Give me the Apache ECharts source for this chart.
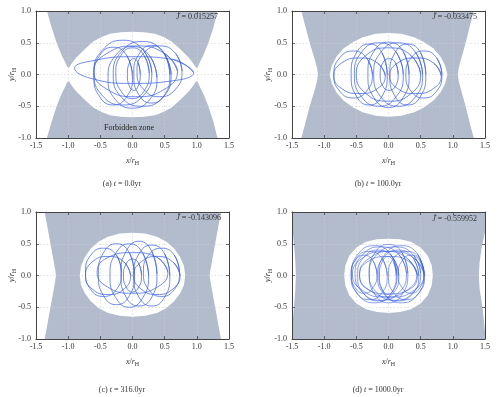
<!DOCTYPE html>
<html>
<head>
<meta charset="utf-8">
<script src="https://cdn.jsdelivr.net/npm/echarts@6/dist/echarts.min.js"></script>
<style>html,body{margin:0;padding:0;background:#fff}#container{width:500px;height:397px}</style>
</head>
<body>
<div id="container"></div>
<script>
// captions + Jacobi values
var captions = ['(a) {i|t} = 0.0yr', '(b) {i|t} = 100.0yr', '(c) {i|t} = 316.0yr', '(d) {i|t} = 1000.0yr'];
var jValues = ['0.015257', '-0.033475', '-0.143096', '-0.559952'];
var zoneLabel = 'Forbidden zone';

// forbidden zone (a): upper and lower pieces, meeting the inner oval at the necks
var zoneTopA = [[-1.33,1],[-1.26,0.75],[-1.18,0.5],[-1.1,0.3],[-1.05,0.2],[-1.02,0.13],[-1.0,0.105],[-0.98,0.12],[-0.94,0.18],[-0.88,0.26],[-0.81,0.33],[-0.71,0.43],[-0.61,0.52],[-0.48,0.59],[-0.35,0.64],[-0.18,0.665],[0,0.675],[0.18,0.665],[0.35,0.64],[0.48,0.59],[0.61,0.52],[0.71,0.43],[0.81,0.33],[0.88,0.26],[0.94,0.18],[0.98,0.12],[1.0,0.105],[1.02,0.13],[1.05,0.2],[1.1,0.3],[1.18,0.5],[1.26,0.75],[1.32,1]];
var zoneBottomA = [[-1.33,-1],[-1.26,-0.75],[-1.18,-0.5],[-1.1,-0.3],[-1.05,-0.2],[-1.02,-0.13],[-1.0,-0.105],[-0.98,-0.12],[-0.94,-0.18],[-0.88,-0.26],[-0.81,-0.33],[-0.71,-0.43],[-0.61,-0.52],[-0.48,-0.59],[-0.35,-0.64],[-0.18,-0.665],[0,-0.675],[0.18,-0.665],[0.35,-0.64],[0.48,-0.59],[0.61,-0.52],[0.71,-0.43],[0.81,-0.33],[0.88,-0.26],[0.94,-0.18],[0.98,-0.12],[1.0,-0.105],[1.02,-0.13],[1.05,-0.2],[1.1,-0.3],[1.18,-0.5],[1.26,-0.75],[1.32,-1]];

// (b)-(d): grey strip between the outer curves, white allowed oval inside
var stripB = [[-1.354,1],[-1.29,0.75],[-1.225,0.5],[-1.15,0.25],[-1.11,0.1],[-1.096,0],[-1.11,-0.1],[-1.15,-0.25],[-1.225,-0.5],[-1.29,-0.75],[-1.354,-1],[1.325,-1],[1.26,-0.75],[1.2,-0.5],[1.13,-0.25],[1.09,-0.1],[1.08,0],[1.09,0.1],[1.13,0.25],[1.2,0.5],[1.26,0.75],[1.325,1]];
var ovalB = [[-0.915,0],[-0.88,0.14],[-0.81,0.28],[-0.7,0.41],[-0.55,0.51],[-0.4,0.585],[-0.2,0.64],[0,0.655],[0.2,0.64],[0.4,0.585],[0.55,0.51],[0.7,0.41],[0.81,0.28],[0.88,0.14],[0.915,0],[0.88,-0.14],[0.81,-0.28],[0.7,-0.41],[0.55,-0.52],[0.4,-0.595],[0.2,-0.65],[0,-0.665],[-0.2,-0.65],[-0.4,-0.595],[-0.55,-0.52],[-0.7,-0.41],[-0.81,-0.28],[-0.88,-0.14]];
var stripC = [[-1.366,1],[-1.32,0.75],[-1.275,0.5],[-1.23,0.25],[-1.2,0.08],[-1.19,0],[-1.2,-0.08],[-1.23,-0.25],[-1.275,-0.5],[-1.32,-0.75],[-1.366,-1],[1.376,-1],[1.33,-0.75],[1.285,-0.5],[1.24,-0.25],[1.21,-0.08],[1.2,0],[1.21,0.08],[1.24,0.25],[1.285,0.5],[1.33,0.75],[1.376,1]];
var ovalC = [[-0.82,0],[-0.8,0.15],[-0.74,0.29],[-0.65,0.42],[-0.53,0.53],[-0.38,0.61],[-0.2,0.66],[0,0.675],[0.2,0.66],[0.38,0.61],[0.53,0.53],[0.65,0.42],[0.74,0.29],[0.8,0.15],[0.82,0],[0.8,-0.15],[0.74,-0.28],[0.65,-0.4],[0.53,-0.51],[0.38,-0.59],[0.2,-0.635],[0,-0.65],[-0.2,-0.635],[-0.38,-0.59],[-0.53,-0.51],[-0.65,-0.4],[-0.74,-0.28],[-0.8,-0.15]];
var stripD = [[-1.5,1],[-1.5,0.82],[-1.475,0.55],[-1.45,0.25],[-1.44,0],[-1.45,-0.25],[-1.475,-0.55],[-1.5,-0.85],[-1.5,-1],[1.5,-1],[1.5,-0.88],[1.46,-0.5],[1.415,-0.2],[1.405,0],[1.415,0.2],[1.45,0.45],[1.5,0.68],[1.5,1]];
var ovalD = [[-0.69,0],[-0.67,0.16],[-0.61,0.31],[-0.5,0.44],[-0.35,0.53],[-0.18,0.57],[0,0.58],[0.18,0.57],[0.35,0.53],[0.5,0.44],[0.61,0.31],[0.67,0.16],[0.69,0],[0.67,-0.16],[0.61,-0.31],[0.5,-0.44],[0.35,-0.53],[0.18,-0.575],[0,-0.59],[-0.18,-0.575],[-0.35,-0.53],[-0.5,-0.44],[-0.61,-0.31],[-0.67,-0.16]];

// orbit loops, read loop by loop off the picture (8 points per loop)
var loopsA = [
  [[0.12,0],[0.09,0.18],[0.02,0.25],[-0.05,0.18],[-0.08,0],[-0.05,-0.18],[0.02,-0.25],[0.09,-0.18]],
  [[0.26,0.02],[0.18,0.3],[0,0.42],[-0.18,0.3],[-0.26,0.02],[-0.18,-0.26],[0,-0.38],[0.18,-0.26]],
  [[0.6,0],[0.47,0.36],[0.15,0.52],[-0.17,0.36],[-0.3,0],[-0.17,-0.36],[0.15,-0.5],[0.47,-0.36]],
  [[0.95,0.03],[0.62,0.24],[0,0.28],[-0.6,0.22],[-0.9,0.1],[-0.65,-0.06],[0,-0.14],[0.62,-0.1]],
  [[0.3,0.03],[0.17,0.38],[-0.15,0.54],[-0.47,0.38],[-0.6,0.03],[-0.47,-0.33],[-0.15,-0.48],[0.17,-0.33]],
  [[0.58,0],[0.5,0.32],[0.3,0.46],[0.1,0.32],[0.02,0],[0.1,-0.32],[0.3,-0.45],[0.5,-0.32]],
  [[0,-0.03],[-0.09,0.3],[-0.3,0.43],[-0.51,0.3],[-0.6,-0.03],[-0.51,-0.35],[-0.3,-0.48],[-0.09,-0.35]],
  [[0.7,0.05],[0.5,0.33],[0.05,0.45],[-0.4,0.33],[-0.6,0.05],[-0.4,-0.23],[0.05,-0.35],[0.5,-0.23]],
  [[0.38,-0.05],[0.27,0.29],[0,0.44],[-0.27,0.29],[-0.38,-0.05],[-0.27,-0.39],[0,-0.53],[0.27,-0.39]],
  [[0.77,0.05],[0.67,0.33],[0.42,0.45],[0.17,0.33],[0.07,0.05],[0.17,-0.23],[0.42,-0.35],[0.67,-0.23]]
];
var loopsB = [
  [[0.15,0],[0.11,0.18],[0.01,0.25],[-0.09,0.18],[-0.13,0],[-0.09,-0.18],[0.01,-0.25],[0.11,-0.18]],
  [[0.58,0],[0.5,0.34],[0.3,0.48],[0.1,0.34],[0.02,0],[0.1,-0.34],[0.3,-0.48],[0.5,-0.34]],
  [[0.82,-0.02],[0.7,0.18],[0.42,0.26],[0.14,0.18],[0.02,-0.02],[0.14,-0.22],[0.42,-0.3],[0.7,-0.22]],
  [[0.32,0],[0.23,0.36],[0,0.51],[-0.23,0.36],[-0.32,0],[-0.23,-0.36],[0,-0.52],[0.23,-0.36]],
  [[-0.05,-0.02],[-0.17,0.18],[-0.45,0.26],[-0.73,0.18],[-0.85,-0.02],[-0.73,-0.22],[-0.45,-0.3],[-0.17,-0.22]],
  [[-0.02,0],[-0.1,0.34],[-0.3,0.48],[-0.5,0.34],[-0.58,0],[-0.5,-0.34],[-0.3,-0.48],[-0.1,-0.34]],
  [[0.53,0],[0.42,0.35],[0.15,0.5],[-0.12,0.35],[-0.23,0],[-0.12,-0.35],[0.15,-0.5],[0.42,-0.35]],
  [[0.23,0],[0.12,0.35],[-0.15,0.5],[-0.42,0.35],[-0.53,0],[-0.42,-0.35],[-0.15,-0.5],[0.12,-0.35]],
  [[-0.25,0],[-0.34,0.26],[-0.55,0.37],[-0.76,0.26],[-0.85,0],[-0.76,-0.26],[-0.55,-0.37],[-0.34,-0.26]],
  [[0.83,0],[0.75,0.26],[0.55,0.37],[0.35,0.26],[0.27,0],[0.35,-0.26],[0.55,-0.37],[0.75,-0.26]],
  [[0.5,0],[0.35,0.3],[0,0.42],[-0.35,0.3],[-0.5,0],[-0.35,-0.3],[0,-0.42],[0.35,-0.3]]
];
var loopsC = [
  [[0.14,0],[0.1,0.18],[0,0.26],[-0.1,0.18],[-0.14,0],[-0.1,-0.18],[0,-0.26],[0.1,-0.18]],
  [[0.74,0],[0.63,0.21],[0.38,0.3],[0.13,0.21],[0.02,0],[0.13,-0.21],[0.38,-0.3],[0.63,-0.21]],
  [[0.38,0.02],[0.3,0.38],[0.1,0.54],[-0.1,0.38],[-0.18,0.02],[-0.1,-0.34],[0.1,-0.48],[0.3,-0.34]],
  [[-0.03,0],[-0.13,0.21],[-0.38,0.3],[-0.63,0.21],[-0.73,0],[-0.63,-0.21],[-0.38,-0.3],[-0.13,-0.21]],
  [[0.03,0.02],[-0.05,0.36],[-0.25,0.5],[-0.45,0.36],[-0.53,0.02],[-0.45,-0.32],[-0.25,-0.46],[-0.05,-0.32]],
  [[0.58,0],[0.5,0.34],[0.3,0.48],[0.1,0.34],[0.02,0],[0.1,-0.34],[0.3,-0.48],[0.5,-0.34]],
  [[0.55,0.05],[0.39,0.28],[0,0.36],[-0.39,0.28],[-0.55,0.05],[-0.39,-0.18],[0,-0.28],[0.39,-0.18]],
  [[0.25,0],[0.16,0.35],[-0.05,0.5],[-0.26,0.35],[-0.35,0],[-0.26,-0.35],[-0.05,-0.5],[0.16,-0.35]],
  [[0.73,0.05],[0.65,0.32],[0.45,0.43],[0.25,0.32],[0.17,0.05],[0.25,-0.22],[0.45,-0.33],[0.65,-0.22]],
  [[-0.17,0.05],[-0.25,0.32],[-0.45,0.43],[-0.65,0.32],[-0.73,0.05],[-0.65,-0.22],[-0.45,-0.33],[-0.25,-0.22]]
];
var loopsD = [
  [[0.12,0],[0.08,0.21],[-0.01,0.3],[-0.1,0.21],[-0.14,0],[-0.1,-0.21],[-0.01,-0.3],[0.08,-0.21]],
  [[0.55,0.02],[0.45,0.34],[0.2,0.47],[-0.05,0.34],[-0.15,0.02],[-0.05,-0.3],[0.2,-0.43],[0.45,-0.3]],
  [[0.13,0.02],[0.03,0.34],[-0.22,0.47],[-0.47,0.34],[-0.57,0.02],[-0.47,-0.3],[-0.22,-0.43],[0.03,-0.3]],
  [[0.45,0],[0.32,0.22],[0,0.3],[-0.32,0.22],[-0.45,0],[-0.32,-0.22],[0,-0.29],[0.32,-0.22]],
  [[0.5,0.03],[0.38,0.33],[0.1,0.45],[-0.18,0.33],[-0.3,0.03],[-0.18,-0.27],[0.1,-0.39],[0.38,-0.27]],
  [[0.28,0.03],[0.16,0.33],[-0.12,0.45],[-0.4,0.33],[-0.52,0.03],[-0.4,-0.27],[-0.12,-0.39],[0.16,-0.27]],
  [[0.56,0],[0.48,0.27],[0.28,0.38],[0.08,0.27],[0,0],[0.08,-0.27],[0.28,-0.38],[0.48,-0.27]],
  [[-0.02,0],[-0.1,0.27],[-0.3,0.38],[-0.5,0.27],[-0.58,0],[-0.5,-0.27],[-0.3,-0.38],[-0.1,-0.27]],
  [[0.3,0.03],[0.21,0.36],[0,0.49],[-0.21,0.36],[-0.3,0.03],[-0.21,-0.3],[0,-0.43],[0.21,-0.3]],
  [[0.55,0.02],[0.4,0.27],[0.05,0.38],[-0.3,0.27],[-0.45,0.02],[-0.3,-0.23],[0.05,-0.34],[0.4,-0.23]],
  [[0.44,0.02],[0.29,0.27],[-0.06,0.38],[-0.41,0.27],[-0.56,0.02],[-0.41,-0.23],[-0.06,-0.34],[0.29,-0.23]],
  [[0.47,0],[0.38,0.28],[0.15,0.4],[-0.08,0.28],[-0.17,0],[-0.08,-0.28],[0.15,-0.4],[0.38,-0.28]],
  [[0.16,0],[0.07,0.28],[-0.16,0.4],[-0.39,0.28],[-0.48,0],[-0.39,-0.28],[-0.16,-0.4],[0.07,-0.28]],
  [[0.55,0.02],[0.49,0.23],[0.35,0.32],[0.21,0.23],[0.15,0.02],[0.21,-0.19],[0.35,-0.28],[0.49,-0.19]],
  [[-0.18,0.02],[-0.24,0.23],[-0.38,0.32],[-0.52,0.23],[-0.58,0.02],[-0.52,-0.19],[-0.38,-0.28],[-0.24,-0.19]]
];
var centre = [[0, 0]];

var zones = [[zoneTopA, zoneBottomA], [stripB, ovalB], [stripC, ovalC], [stripD, ovalD]];
var zoneFills = [['#b3bccc', '#b3bccc'], ['#b3bccc', '#fff'], ['#b3bccc', '#fff'], ['#b3bccc', '#fff']];
var loops = [loopsA, loopsB, loopsC, loopsD];

// each loop closed on itself (first two points repeated), loops separated by gaps
function loopData(list) {
    var out = [];
    list.forEach(function (l) {
        out = out.concat(l, [l[0], l[1]], [['-', '-']]);
    });
    return out;
}

var FONT = 'Liberation Serif';
var boxes = [{left: 36, top: 11}, {left: 292, top: 11}, {left: 36, top: 212}, {left: 292, top: 212}];
var capPos = [[122, 184], [378, 184], [122, 390], [378, 390]];
var jPos = [[218, 17], [477, 17], [221, 218], [477, 219]];

var nameRich = {
    i: {fontStyle: 'italic', fontFamily: FONT, fontSize: 8, color: '#333'},
    n: {fontFamily: FONT, fontSize: 8, color: '#333'},
    s: {fontFamily: FONT, fontSize: 6, color: '#333', padding: [4, 0, 0, 0]}
};
function fmt(v) { return v.toFixed(1); }

var grid = [], xAxis = [], yAxis = [], series = [], graphic = [];
boxes.forEach(function (b, k) {
    grid.push({left: b.left, top: b.top, width: 193, height: 127});
    var line = {show: true, onZero: false, lineStyle: {color: '#444', width: 1}};
    var tick = {show: true, inside: true, length: 3, lineStyle: {color: '#444', width: 0.8}};
    var split = {show: true, lineStyle: {color: '#d2d2d2', type: [1.5, 2], width: 0.6}};
    xAxis.push({gridIndex: k, type: 'value', min: -1.5, max: 1.5, interval: 0.5, z: 5,
        axisLine: line, axisTick: tick, splitLine: split,
        axisLabel: {fontFamily: FONT, fontSize: 8, color: '#333', margin: 4, formatter: fmt},
        name: '{i|x}{n|/}{i|r}{s|H}', nameLocation: 'middle', nameGap: 18, nameMoveOverlap: false,
        nameTextStyle: {rich: nameRich}});
    xAxis.push({gridIndex: k, type: 'value', position: 'top', min: -1.5, max: 1.5, interval: 0.5, z: 5,
        axisLine: line, axisTick: tick, splitLine: {show: false}, axisLabel: {show: false}});
    yAxis.push({gridIndex: k, type: 'value', min: -1, max: 1, interval: 0.5, z: 5,
        axisLine: line, axisTick: tick, splitLine: split,
        axisLabel: {fontFamily: FONT, fontSize: 8, color: '#333', margin: 5, formatter: fmt},
        name: '{i|y}{n|/}{i|r}{s|H}', nameLocation: 'middle', nameGap: 19, nameRotate: 90, nameMoveOverlap: false,
        nameTextStyle: {rich: nameRich}});
    yAxis.push({gridIndex: k, type: 'value', position: 'right', min: -1, max: 1, interval: 0.5, z: 5,
        axisLine: line, axisTick: tick, splitLine: {show: false}, axisLabel: {show: false}});

    var polys = zones[k], fills = zoneFills[k];
    series.push({
        type: 'custom', xAxisIndex: 2 * k, yAxisIndex: 2 * k, z: 1, silent: true,
        data: polys.map(function () { return [0, 0]; }),
        renderItem: function (params, api) {
            var pts = polys[params.dataIndex].map(function (p) { return api.coord(p); });
            return {type: 'polygon', shape: {points: pts}, style: {fill: fills[params.dataIndex]}};
        }
    });
    series.push({
        type: 'line', xAxisIndex: 2 * k, yAxisIndex: 2 * k, z: 8, silent: true,
        data: loopData(loops[k]), showSymbol: false, smooth: true, connectNulls: false,
        lineStyle: {color: '#3a60e0', width: k === 3 ? 0.65 : 0.8, opacity: 0.9}
    });
    series.push({
        type: 'scatter', xAxisIndex: 2 * k, yAxisIndex: 2 * k, z: 9, silent: true,
        data: centre, symbolSize: 2, itemStyle: {color: '#d9a080'}
    });

    graphic.push({type: 'text', x: capPos[k][0], y: capPos[k][1], style: {
        text: captions[k], fontFamily: FONT, fontSize: 8, fill: '#333', align: 'center', verticalAlign: 'middle',
        rich: {i: {fontStyle: 'italic', fontFamily: FONT, fontSize: 8, fill: '#333'}}}});
    graphic.push({type: 'text', x: jPos[k][0], y: jPos[k][1], z: 20, style: {
        text: '{i|J\u0303} = ' + jValues[k], fontFamily: FONT, fontSize: 8, fill: '#333', align: 'right', verticalAlign: 'middle',
        rich: {i: {fontStyle: 'italic', fontFamily: FONT, fontSize: 8, fill: '#333'}}}});
});
graphic.push({type: 'text', x: 129, y: 128, z: 20, style: {
    text: zoneLabel, fontFamily: FONT, fontSize: 8, fill: '#222', align: 'center', verticalAlign: 'middle'}});

var myChart = echarts.init(document.getElementById('container'));
myChart.setOption({
    animation: false,
    grid: grid,
    xAxis: xAxis,
    yAxis: yAxis,
    series: series,
    graphic: graphic
});
</script>
</body>
</html>
